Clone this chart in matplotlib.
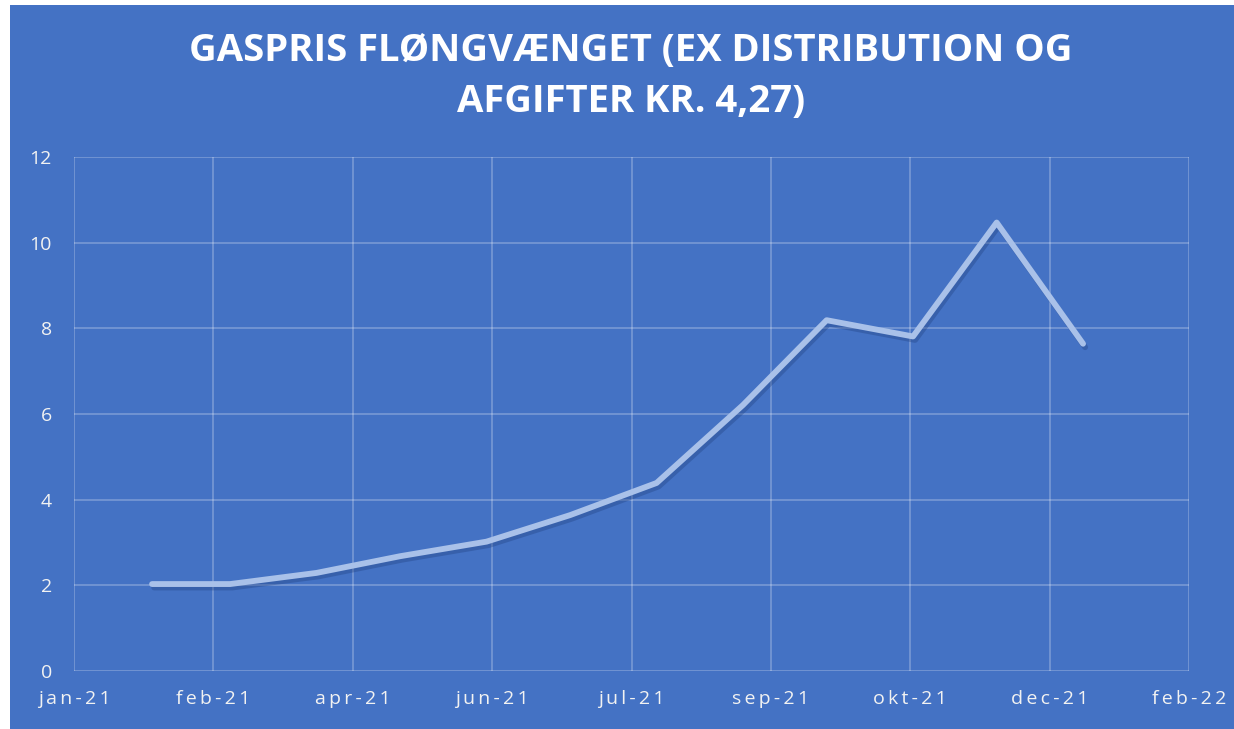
import matplotlib
matplotlib.use("Agg")
import matplotlib.pyplot as plt
import matplotlib.patheffects as pe
from matplotlib.patches import Rectangle
import datetime as dt

# ---- data ----
months = ["2021-02-01", "2021-03-01", "2021-04-01", "2021-05-01", "2021-06-01",
          "2021-07-01", "2021-08-01", "2021-09-01", "2021-10-01", "2021-11-01",
          "2021-12-01", "2022-01-01"]
prices = [2.03, 2.03, 2.29, 2.68, 3.02, 3.64, 4.39, 6.21, 8.19, 7.81, 10.47, 7.64]
x_start = "2021-01-04"
x_step_days = 50
x_tick_labels = ["jan-21", "feb-21", "apr-21", "jun-21", "jul-21",
                 "sep-21", "okt-21", "dec-21", "feb-22"]
y_ticks = [0, 2, 4, 6, 8, 10, 12]
title = "GASPRIS FLØNGVÆNGET (EX DISTRIBUTION OG\nAFGIFTER KR. 4,27)"

BLUE = "#4472C4"
TXT = "#F2F2F2"
FAM = ["Open Sans", "DejaVu Sans"]

fig = plt.figure(figsize=(12.34, 7.29), dpi=100, facecolor="white")
bg = Rectangle((10 / 1234, 0), 1 - 10 / 1234, 1 - 5 / 729,
               transform=fig.transFigure, facecolor=BLUE, edgecolor="none", zorder=-10)
fig.patches.append(bg)

ax = fig.add_axes([74 / 1234, 1 - 671 / 729, (1189 - 74) / 1234, (671 - 157) / 729])
ax.set_zorder(1)
ax.patch.set_alpha(0)

xd = [dt.datetime.strptime(m, "%Y-%m-%d") for m in months]
start = dt.datetime.strptime(x_start, "%Y-%m-%d")
tick_dates = [start + dt.timedelta(days=x_step_days * i) for i in range(len(x_tick_labels))]

ax.plot(xd, prices, color="#A9C1E9", lw=4.2, solid_capstyle="round",
        solid_joinstyle="round", zorder=3,
        path_effects=[pe.SimpleLineShadow(offset=(1.5, -2.5), shadow_color="#1F3F7F", alpha=0.35),
                      pe.Normal()])

ax.set_xlim(tick_dates[0], tick_dates[-1])
ax.set_ylim(0, 12)
ax.set_xticks(tick_dates)
ax.set_xticklabels(["\u2009".join(lbl) for lbl in x_tick_labels])
ax.set_yticks(y_ticks)
ax.set_yticklabels([str(v) for v in y_ticks])

ax.grid(True, color="white", alpha=0.3, lw=1.1)
for s in ax.spines.values():
    s.set_visible(False)
ax.tick_params(length=0, colors=TXT, labelsize=14)
for lbl in ax.get_xticklabels() + ax.get_yticklabels():
    lbl.set_fontfamily(FAM)
ax.tick_params(axis="x", pad=14)
ax.tick_params(axis="y", pad=16)

fig.text(0.511, 1 - 76.5 / 729, title, ha="center", va="center", color="white",
         fontsize=27.5, fontweight="bold", family=FAM, linespacing=1.45)

fig.savefig("out.png", dpi=100, facecolor="white")
